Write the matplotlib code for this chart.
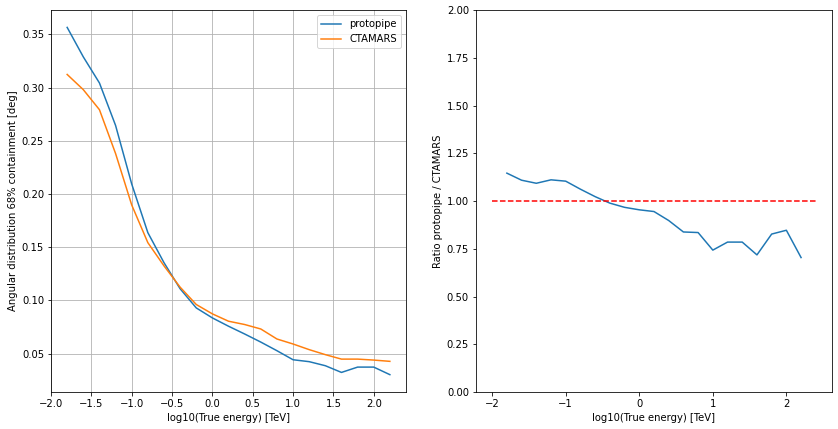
import matplotlib
matplotlib.use("Agg")
import matplotlib.pyplot as plt
import numpy as np

# log10(E_true / TeV) bin centres
log_energy = [-1.8, -1.6, -1.4, -1.2, -1.0, -0.8, -0.6, -0.4, -0.2, 0.0, 0.2,
              0.4, 0.6, 0.8, 1.0, 1.2, 1.4, 1.6, 1.8, 2.0, 2.2]

# 68% containment radius [deg]
protopipe = [0.3565, 0.3288, 0.3043, 0.2644, 0.2094, 0.1637, 0.1355, 0.1110,
             0.0930, 0.0836, 0.0758, 0.0685, 0.0609, 0.0528, 0.0443, 0.0425,
             0.0387, 0.0324, 0.0374, 0.0374, 0.0303]
ctamars = [0.3123, 0.2980, 0.2792, 0.2380, 0.1897, 0.1543, 0.1325, 0.1125,
           0.0962, 0.0874, 0.0805, 0.0774, 0.0732, 0.0638, 0.0591, 0.0538,
           0.0491, 0.0449, 0.0449, 0.0440, 0.0428]

# ratio protopipe / CTAMARS
ratio = [1.146, 1.109, 1.093, 1.111, 1.104, 1.062, 1.023, 0.989, 0.967, 0.954,
         0.945, 0.898, 0.838, 0.835, 0.743, 0.785, 0.785, 0.718, 0.827, 0.847,
         0.704]

fig = plt.figure(figsize=(838 / 72, 429 / 72), dpi=72)
ax1 = fig.add_axes([0.0609, 0.0862, 0.4236, 0.8904])
ax2 = fig.add_axes([0.568, 0.0862, 0.4248, 0.8904])

ax1.plot(log_energy, protopipe, label="protopipe")
ax1.plot(log_energy, ctamars, label="CTAMARS")
ax1.set_xlabel("log10(True energy) [TeV]")
ax1.set_ylabel("Angular distribution 68% containment [deg]")
ax1.grid(True)
ax1.legend(loc="upper right")

ax2.plot(log_energy, ratio)
xmin, xmax = ax1.get_xlim()
ax2.plot([xmin, xmax], [1.0, 1.0], "r--")
ax2.set_ylim(0, 2)
ax2.set_xlabel("log10(True energy) [TeV]")
ax2.set_ylabel("Ratio protopipe / CTAMARS")

fig.savefig("out.png", dpi=72, facecolor="white")
